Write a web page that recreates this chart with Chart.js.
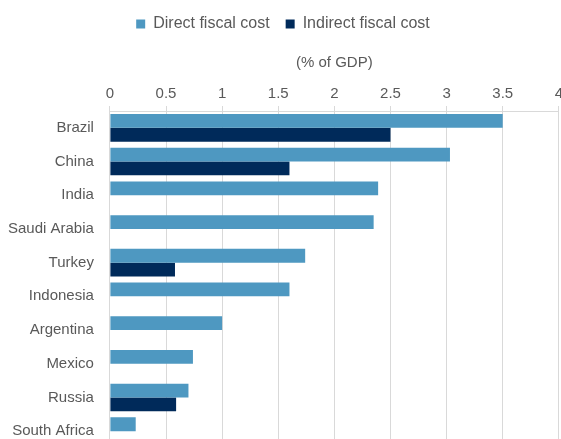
<!DOCTYPE html>
<html>
<head>
<meta charset="utf-8">
<script src="https://cdn.jsdelivr.net/npm/chart.js@4.4.1/dist/chart.umd.min.js"></script>
<style>
  html, body { margin: 0; padding: 0; background: #fff; overflow: hidden; }
  #wrap { width: 566px; height: 465px; }
</style>
</head>
<body>
<div id="wrap"><canvas id="grafico"></canvas></div>
<script>
  // categorias e valores (% do PIB)
  const paises = ["Brazil", "China", "India", "Saudi Arabia", "Turkey", "Indonesia", "Argentina", "Mexico", "Russia", "South Africa"];
  const custoDireto = [3.5, 3.03, 2.39, 2.35, 1.74, 1.6, 1.0, 0.74, 0.7, 0.23];
  const custoIndireto = [2.5, 1.6, null, null, 0.58, null, null, null, 0.59, null];
  const ticksX = [0, 0.5, 1, 1.5, 2, 2.5, 3, 3.5, 4];

  Chart.defaults.font.family = "'Liberation Sans', Arial, sans-serif";
  Chart.defaults.font.size = 15;
  Chart.defaults.color = "#595959";

  const config = {
    type: "bar",
    data: {
      labels: paises,
      datasets: [
        { label: "Direct fiscal cost", data: custoDireto, backgroundColor: "#4E98C1" },
        { label: "Indirect fiscal cost", data: custoIndireto, backgroundColor: "#002A5A" }
      ]
    },
    options: {
      indexAxis: "y",
      responsive: true,
      maintainAspectRatio: false,
      animation: false,
      layout: { padding: { left: 0, top: 0, bottom: 0 } },
      datasets: { bar: { categoryPercentage: 0.82, barPercentage: 1 } },
      plugins: {
        legend: {
          position: "top",
          labels: { boxWidth: 9, boxHeight: 9, padding: 16, font: { size: 16 } }
        },
        tooltip: { enabled: false }
      },
      scales: {
        x: {
          position: "top",
          min: 0, max: 4,
          afterBuildTicks: (ax) => { ax.ticks = ticksX.map(v => ({ value: v })); },
          ticks: { padding: 3, font: { size: 15 }, callback: (v) => String(v) },
          grid: { color: "#D9D9D9", tickLength: 5 },
          border: { color: "#D9D9D9" },
          title: { display: true, text: "(% of GDP)", padding: { top: 12, bottom: 10 }, font: { size: 15 } }
        },
        y: {
          grid: { display: false },
          border: { display: false },
          ticks: { padding: 8, font: { size: 15 } }
        }
      }
    }
  };

  new Chart(document.getElementById("grafico"), config);
</script>
</body>
</html>
